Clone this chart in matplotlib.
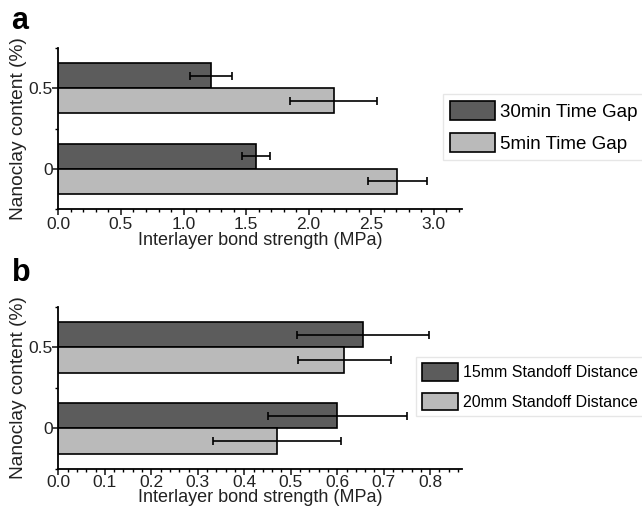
import numpy as np
import matplotlib.pyplot as plt
from matplotlib.ticker import MultipleLocator

plt.rcParams['font.family'] = ['Liberation Sans', 'DejaVu Sans']

#%% Data
content = [0, 0.5]
content_labels = ['0', '0.5']

# (a) time gap
gap30 = [1.58, 1.22]
gap30_err = [0.115, 0.17]
gap5 = [2.71, 2.20]
gap5_err = [0.235, 0.345]

# (b) standoff distance
sd15 = [0.60, 0.655]
sd15_err = [0.15, 0.142]
sd20 = [0.47, 0.615]
sd20_err = [0.138, 0.10]

dark = '#5c5c5c'
light = '#bababa'
h = 0.155

fig = plt.figure(figsize=(6.42, 5.13), dpi=100)
ax1 = fig.add_axes([0.091, 0.5926, 0.629, 0.3136])
ax2 = fig.add_axes([0.091, 0.0858, 0.629, 0.3158])

y = np.array(content)
ekw = dict(ecolor='black', elinewidth=1.2, capsize=3, capthick=1.2)

ax1.barh(y + h/2, gap30, h, xerr=gap30_err, color=dark, edgecolor='black',
         linewidth=1.2, error_kw=ekw, label='30min Time Gap')
ax1.barh(y - h/2, gap5, h, xerr=gap5_err, color=light, edgecolor='black',
         linewidth=1.2, error_kw=ekw, label='5min Time Gap')
ax1.set_xlim(0, 3.228)
ax1.xaxis.set_major_locator(MultipleLocator(0.5))
ax1.xaxis.set_minor_locator(MultipleLocator(0.1))

ax2.barh(y + h/2, sd15, h, xerr=sd15_err, color=dark, edgecolor='black',
         linewidth=1.2, error_kw=ekw, label='15mm Standoff Distance')
ax2.barh(y - h/2, sd20, h, xerr=sd20_err, color=light, edgecolor='black',
         linewidth=1.2, error_kw=ekw, label='20mm Standoff Distance')
ax2.set_xlim(0, 0.869)
ax2.xaxis.set_major_locator(MultipleLocator(0.1))
ax2.xaxis.set_minor_locator(MultipleLocator(0.02))

for ax in (ax1, ax2):
    ax.set_ylim(-0.25, 0.75)
    ax.set_yticks(content)
    ax.set_yticklabels(content_labels)
    ax.yaxis.set_minor_locator(MultipleLocator(0.25))
    for s in ['top', 'right']:
        ax.spines[s].set_visible(False)
    for s in ['left', 'bottom']:
        ax.spines[s].set_linewidth(1.3)
    ax.tick_params(which='major', direction='out', length=4, width=1.2,
                   labelsize=12.5, colors='#222222', pad=2)
    ax.tick_params(which='minor', direction='out', length=2.5, width=1.0)
    ax.tick_params(axis='y', which='major', pad=0)
    ax.set_ylabel('Nanoclay content (%)', fontsize=13.8, color='#222222', labelpad=1.5)
    ax.set_xlabel('Interlayer bond strength (MPa)', fontsize=13, color='#222222', labelpad=0)

ax2.tick_params(axis='x', which='major', pad=0.5)
ax2.xaxis.labelpad = -1

ax1.xaxis.set_major_formatter(plt.FuncFormatter(lambda v, p: f'{v:.1f}'))
ax2.xaxis.set_major_formatter(plt.FuncFormatter(lambda v, p: f'{v:.1f}'))

leg1 = fig.legend(*ax1.get_legend_handles_labels(), loc='upper left',
                  bbox_to_anchor=(0.69, 0.816), fontsize=13.5, frameon=True,
                  fancybox=False, edgecolor='#e0e0e0', handlelength=2.4,
                  handleheight=1.2, handletextpad=0.3, labelspacing=0.65,
                  borderpad=0.35, borderaxespad=0)
leg2 = fig.legend(*ax2.get_legend_handles_labels(), loc='upper left',
                  bbox_to_anchor=(0.648, 0.304), fontsize=11.5, frameon=True,
                  fancybox=False, edgecolor='#e0e0e0', handlelength=2.3,
                  handleheight=1.35, handletextpad=0.3, labelspacing=0.75,
                  borderpad=0.35, borderaxespad=0)

fig.text(0.018, 0.96, 'a', fontsize=22, fontweight='bold', va='center')
fig.text(0.018, 0.468, 'b', fontsize=22, fontweight='bold', va='center')

fig.savefig('out.png', dpi=100)
